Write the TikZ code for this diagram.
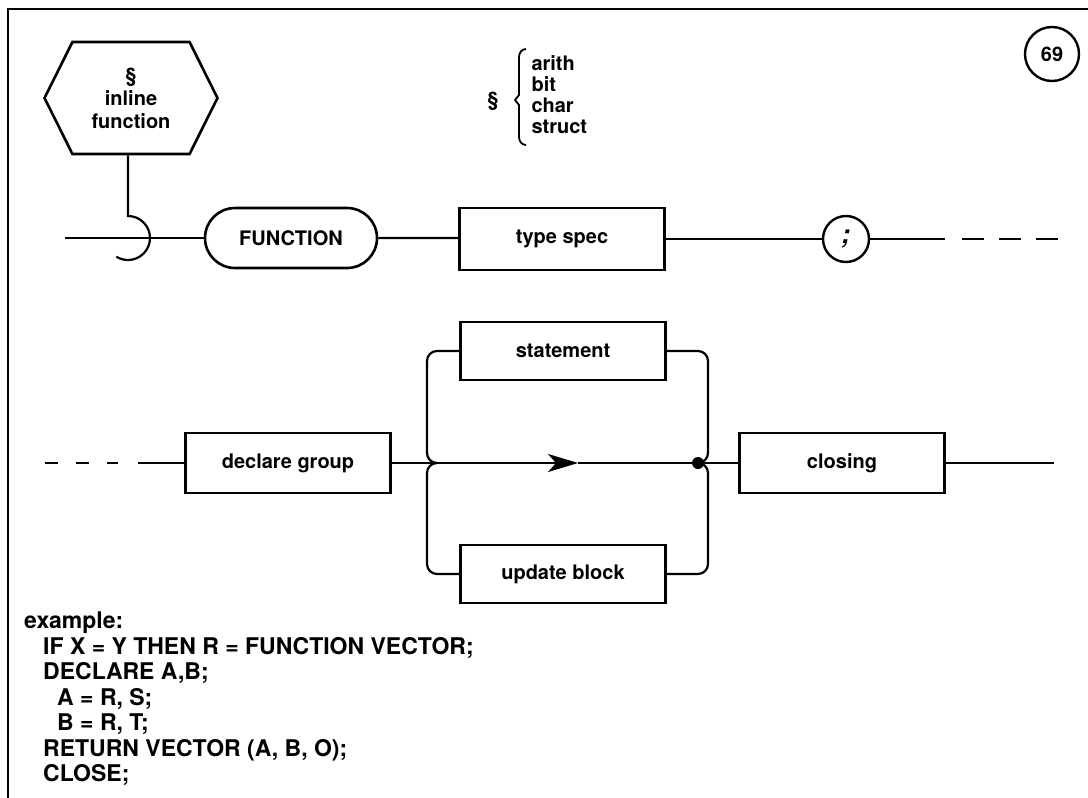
\documentclass[tikz,border=0pt]{standalone}
\usepackage{fontspec}
\setmainfont{TeX Gyre Heros}
\usetikzlibrary{shapes.misc,shapes.symbols,arrows.meta}

\newcommand{\railfont}{\fontsize{20}{21}\selectfont\bfseries}

\tikzset{
  synbox/.style={draw, line width=2.6pt, minimum width=205pt, minimum height=60pt, inner sep=0pt},
  keyword/.style={draw, rounded rectangle, line width=2.6pt, minimum width=172pt, minimum height=60pt, inner sep=0pt},
  marker/.style={draw, circle, line width=2.4pt, inner sep=0pt},
  rail/.style={line width=2.2pt},
  railgap/.style={rail, dash pattern=#1},
}

\begin{document}
\begin{tikzpicture}[x=1pt, y=1pt, every node/.style={font=\railfont}]
\useasboundingbox (0,0) rectangle (1088,-798);
% frame
\draw[line width=2.2pt] (8,-798) -- (8,-9) -- (1088,-9);

% inline function header
\node[draw, signal, signal to=west and east, signal pointer angle=127, line width=2.6pt,
      minimum width=173pt, minimum height=112pt, inner sep=0pt, align=center,
      font=\fontsize{20}{23}\selectfont\bfseries] (inl) at (131,-98)
      {§\\inline\\function};
\node (sect) at (493,-101) {§};
\node[anchor=west, align=left] (kinds) at (528,-95) {arith\\bit\\char\\struct};
\draw[line width=1.8pt] (526,-49) to[out=180,in=90] (519,-57) -- (519,-95) -- (515,-100)
  -- (519,-105) -- (519,-137) to[out=-90,in=180] (526,-145);
\node[marker, minimum size=54pt] (pgno) at (1052,-54) {69};

% first line
\coordinate (start1) at (65,-238);
\coordinate (hook) at (128,-238);
\node[keyword] (func) at (291,-238) {FUNCTION};
\node[synbox, minimum height=62pt] (tspec) at (562,-239) {type spec};
\node[marker, minimum size=46pt] (semi) at (846,-239) {\fontsize{26}{26}\selectfont\textit{;}};
\coordinate (gap1) at (945,-239);
\coordinate (end1) at (1060,-239);

\draw[rail] (inl.south -| hook) -- ([yshift=22pt]hook) arc[start angle=90, end angle=-122, radius=22pt];
\draw[rail] (start1) -- (func);
\draw[rail] (func) -- (tspec.west |- func);
\draw[rail] (tspec) -- (semi);
\draw[rail] (semi) -- (gap1);
\draw[railgap={on 22pt off 15pt}] ([xshift=17pt]gap1) -- (end1);

% second line
\coordinate (start2) at (45,-463);
\coordinate (gap2) at (138,-463);
\node[synbox] (decl) at (288,-463) {declare group};
\node[synbox, minimum height=58pt] (stmt) at (563,-351) {statement};
\node[synbox, minimum height=58pt] (upd) at (563,-574) {update block};
\node[synbox] (close) at (842,-463) {closing};
\coordinate (end2) at (1054,-463);
\coordinate (fork) at (437,-463);
\coordinate (lbr) at (427,-463);
\coordinate (rbr) at (708,-463);
\coordinate (join) at (698,-463);
\coordinate (tip) at (578,-463);

\draw[railgap={on 13pt off 18pt}] (start2) -- ([xshift=-20pt]gap2);
\draw[rail] (gap2) -- (decl);
\draw[rail] (decl) -- (fork);
\draw[rail, -{Stealth[length=30pt, width=18pt, inset=8pt]}] (fork) -- (tip);
\draw[rail] (tip) -- (join);
\draw[rail, rounded corners=10pt] (fork) -- (lbr) |- (stmt.west);
\draw[rail, rounded corners=10pt] (fork) -- (lbr) |- (upd.west);
\draw[rail, rounded corners=10pt] (stmt.east) -| (rbr) -- (join);
\draw[rail, rounded corners=10pt] (upd.east) -| (rbr) -- (join);
\fill (join) circle (6pt);
\draw[rail] (join) -- (close);
\draw[rail] (close) -- (end2);

% example
\node[anchor=north west, align=left, inner sep=0pt, font=\fontsize{23}{25.5}\selectfont\bfseries]
  (example) at (24,-612)
  {example:\\
   \hspace*{19pt}IF X = Y THEN R = FUNCTION VECTOR;\\
   \hspace*{19pt}DECLARE A,B;\\
   \hspace*{33pt}A = R, S;\\
   \hspace*{33pt}B = R, T;\\
   \hspace*{19pt}RETURN VECTOR (A, B, O);\\
   \hspace*{19pt}CLOSE;};
\end{tikzpicture}
\end{document}
